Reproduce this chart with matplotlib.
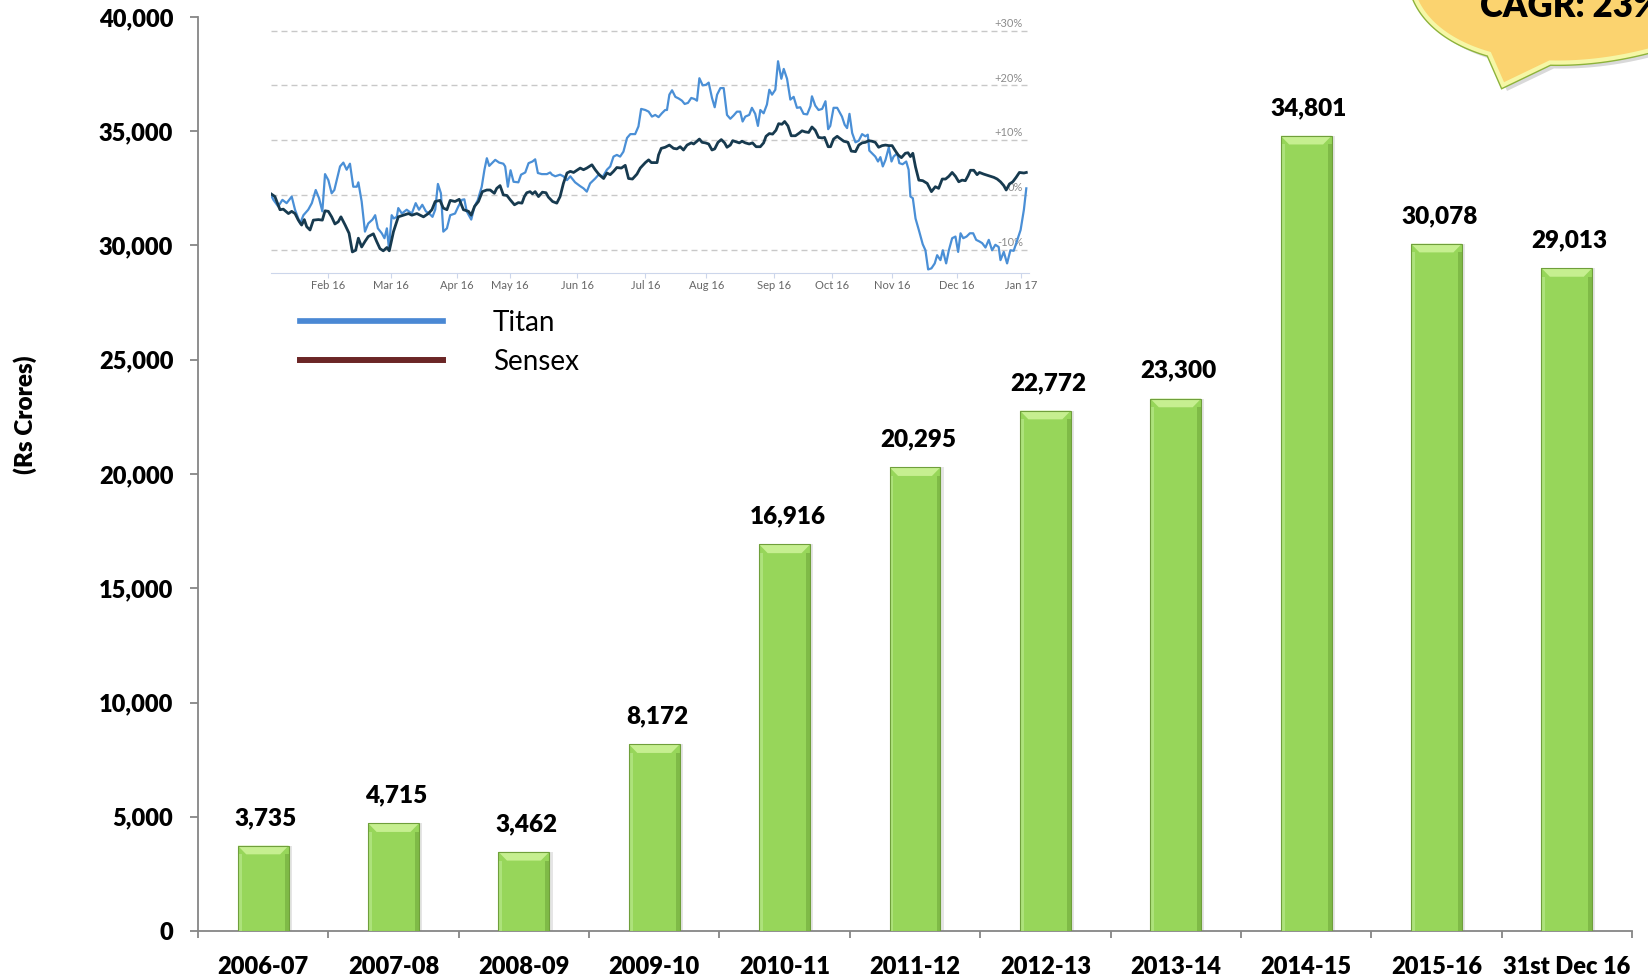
import numpy as np
import matplotlib
matplotlib.use("Agg")
import matplotlib.pyplot as plt
import matplotlib.transforms as mtransforms
import matplotlib.patheffects as pe
from matplotlib.patches import Polygon
from matplotlib.lines import Line2D

plt.rcParams['font.family'] = ['Lato', 'DejaVu Sans']

# =========================================================
# Data
# =========================================================

years = ["2006-07", "2007-08", "2008-09", "2009-10", "2010-11", "2011-12",
         "2012-13", "2013-14", "2014-15", "2015-16", "31st Dec 16"]
market_cap = [3735, 4715, 3462, 8172, 16916, 20295, 22772, 23300, 34801, 30078, 29013]

# one-year price performance (trading day index, % change)
titan_day = [
    0.0, 0.8, 2.4, 3.8, 5.2, 6.9, 8.0, 9.7, 10.8, 12.4, 13.6, 14.9, 16.0, 17.1, 18.0, 19.1,
    20.2, 21.1, 23.0, 24.1, 25.2, 26.3, 27.4, 28.6, 29.1, 30.2, 31.3, 32.4, 33.8, 34.7, 35.6,
    36.9, 37.8, 38.6, 39.3, 40.2, 40.9, 41.9, 42.4, 43.6, 45.2, 46.9, 48.2, 49.3, 50.4, 51.6,
    52.7, 53.8, 54.7, 55.6, 56.6, 57.4, 58.6, 59.7, 61.3, 62.4, 63.6, 64.4, 65.2, 66.7, 67.8,
    68.9, 70.2, 71.1, 71.9, 72.7, 73.8, 74.7, 76.0, 77.4, 78.0, 78.9, 79.8, 80.8, 82.4, 83.3,
    84.7, 85.8, 87.1, 88.0, 88.9, 90.2, 91.9, 93.0, 93.6, 94.7, 96.3, 97.4, 98.6, 99.7, 101.3,
    103.0, 104.1, 105.2, 106.3, 108.0, 109.3, 110.4, 111.9, 113.0, 114.1, 115.2, 116.3, 117.4,
    118.6, 119.7, 121.3, 122.4, 123.3, 124.7, 125.8, 126.9, 128.0, 129.1, 130.2, 131.3, 131.9,
    132.7, 133.6, 134.7, 135.8, 136.9, 137.8, 138.9, 140.0, 141.1, 141.9, 142.7, 143.8, 144.9,
    145.8, 146.9, 147.8, 148.6, 149.7, 150.8, 151.9, 153.0, 154.1, 155.2, 156.3, 157.1, 158.0,
    159.3, 160.2, 161.3, 162.2, 163.0, 164.1, 165.2, 166.0, 166.9, 168.0, 168.9, 170.0, 170.8,
    171.9, 173.0, 174.1, 175.2, 176.3, 177.4, 178.6, 179.7, 180.2, 181.3, 182.4, 183.6, 184.7,
    185.6, 186.3, 187.4, 188.6, 190.2, 191.1, 191.9, 192.7, 193.6, 194.7, 195.8, 196.9, 198.0,
    198.8, 199.3, 200.2, 201.3, 202.2, 203.0, 203.8, 204.7, 205.8, 206.7, 207.4, 208.6, 209.3,
    210.4, 211.6, 212.4, 213.0, 213.8, 214.7, 215.8, 217.1, 218.0, 218.9, 220.0, 221.1, 221.9,
    223.0, 223.8, 224.9, 225.8, 226.9, 228.0, 228.9, 229.7, 230.6, 231.7, 232.8, 233.9, 234.9,
    236.0, 236.9, 238.0, 239.1, 240.2, 241.3, 242.4, 243.0, 244.1, 245.2, 246.3, 247.4, 248.6,
    249.7, 250.8, 251.6]
titan_pct = [
    0.0, -0.9, -2.1, -0.9, -1.5, -0.3, -2.7, -5.2, -3.7, -2.7, -1.5, 0.9, -0.6, -3.0, 3.8, 2.7,
    0.3, 0.9, 5.2, 5.9, 4.6, 5.7, 1.5, 1.5, 2.3, -1.2, -6.7, -5.2, -4.5, -3.7, -6.1,
    -7.0, -7.9, -6.1, -9.8, -3.7, -4.3, -4.0, -2.4, -3.4, -2.7, -3.4, -1.5, -2.7, -1.8, -3.0,
    -3.4, -4.0, -2.7, 2.0, 0.3, -6.7, -6.1, -3.7, -3.4, -2.1, -0.9, -0.8, -3.0, -4.5, -2.1,
    -0.9, 1.5, 4.6, 6.7, 5.3, 5.9, 6.4, 5.9, 5.7, 5.2, 1.5, 4.5, 2.4, 2.3, 3.7,
    4.1, 5.8, 6.1, 6.5, 4.0, 3.8, 3.8, 4.1, 3.7, 3.4, 3.7, 3.4, 2.7, 3.4, 2.3,
    1.6, 1.2, 0.6, 2.1, 3.0, 3.8, 3.2, 4.6, 5.2, 7.0, 7.3, 7.0, 7.9,
    10.4, 11.1, 11.1, 12.5, 15.7, 15.5, 15.2, 14.3, 14.6, 14.2, 14.9, 15.5, 15.5,
    18.3, 19.1, 17.9, 17.6, 17.2, 16.6, 16.8, 17.7, 17.5, 17.2, 21.3, 20.0, 20.1,
    20.5, 17.7, 16.0, 18.3, 19.5, 19.5, 14.6, 13.9, 14.5, 15.2, 15.2, 13.4, 14.3,
    14.6, 15.9, 14.8, 12.6, 15.5, 14.9, 16.5, 19.2, 18.3, 19.2, 24.4, 21.2, 23.0,
    21.2, 17.4, 17.9, 15.9, 16.0, 14.8, 14.7, 16.2, 18.0, 16.3, 15.5, 15.7, 17.1,
    12.0, 12.6, 15.9, 15.9, 14.3, 12.8, 12.2, 14.8, 11.3, 9.6, 9.9, 11.1, 10.7,
    11.0, 8.1, 7.6, 7.0, 6.1, 6.9, 5.2, 6.4, 8.7, 6.1, 7.0, 7.6, 5.8,
    5.6, 6.1, 4.6, -0.3, -0.6, -4.3, -6.4, -9.0, -10.1, -13.6, -13.4, -12.5, -11.0,
    -11.9, -10.1, -12.5, -10.1, -7.9, -7.6, -10.4, -7.0, -7.9, -7.6, -7.0, -7.0, -8.2,
    -8.5, -8.8, -9.6, -8.2, -10.1, -9.1, -9.5, -11.9, -10.4, -12.5, -10.1, -10.2, -8.2,
    -6.4, -2.7, 1.2]

sensex_day = [
    0.0, 1.3, 3.0, 4.1, 5.8, 6.9, 8.0, 9.1, 10.2, 11.1, 11.9, 13.0, 14.1, 15.8, 17.1, 18.0,
    19.1, 20.2, 21.3, 22.4, 23.3, 24.7, 26.0, 27.1, 28.2, 29.1, 30.2, 31.3, 32.4, 34.1, 35.2,
    36.3, 37.4, 38.6, 39.4, 40.8, 42.4, 44.1, 45.8, 46.9, 48.6, 49.7, 50.8, 52.4, 53.6, 54.7,
    56.3, 57.4, 58.6, 59.7, 61.3, 62.7, 64.1, 65.8, 66.7, 67.8, 69.1, 70.4, 71.9, 73.0, 74.4,
    75.2, 76.3, 77.4, 78.6, 79.7, 81.1, 82.4, 83.6, 84.4, 85.2, 86.3, 87.1, 88.0, 89.1, 90.4,
    91.6, 92.4, 93.8, 95.2, 96.3, 97.4, 98.6, 99.7, 100.8, 101.9, 103.0, 104.1, 105.2, 106.9,
    108.0, 109.3, 110.8, 111.9, 113.0, 114.1, 115.2, 116.7, 118.0, 119.1, 120.4, 121.9, 123.0,
    124.7, 125.8, 126.7, 127.4, 128.6, 129.1, 130.0, 131.3, 132.7, 134.1, 135.2, 136.3, 137.4,
    138.6, 140.0, 140.8, 141.9, 142.7, 143.6, 144.7, 145.8, 146.9, 147.8, 148.9, 150.0, 151.1,
    151.9, 153.0, 153.8, 154.9, 156.0, 156.9, 158.0, 159.3, 160.4, 161.6, 163.0, 164.1, 164.9,
    166.0, 167.1, 168.2, 169.1, 170.2, 171.1, 172.2, 173.3, 174.7, 176.0, 176.9, 178.0, 179.1,
    180.2, 181.3, 182.4, 183.6, 184.4, 185.6, 186.4, 187.4, 188.6, 189.3, 190.8, 192.2, 193.3,
    194.7, 195.8, 196.9, 198.0, 199.1, 200.2, 201.3, 202.4, 203.6, 204.7, 205.8, 206.9, 207.8,
    208.9, 210.0, 211.3, 212.2, 213.0, 213.8, 214.7, 215.8, 217.1, 218.6, 220.0, 221.3, 222.4,
    223.6, 224.7, 225.8, 226.9, 228.0, 229.1, 230.2, 231.3, 232.2, 233.0, 234.1, 235.2, 236.0,
    237.4, 239.1, 240.8, 241.9, 243.0, 244.1, 244.9, 246.0, 247.1, 248.2, 249.3, 250.8, 251.6]
sensex_pct = [
    0.2, -0.3, -2.7, -2.6, -3.4, -3.0, -3.4, -4.6, -5.5, -4.5, -5.8, -6.4, -4.6, -4.5, -4.6, -2.9,
    -3.0, -4.0, -5.3, -4.9, -4.0, -5.5, -7.0, -10.4, -10.1, -7.9, -9.5, -8.5, -7.6, -7.1, -8.5,
    -9.8, -10.2, -9.6, -10.2, -6.7, -4.0, -3.7, -3.4, -3.7, -3.4, -3.7, -4.0, -3.4, -2.7, -1.2,
    -1.0, -2.4, -2.7, -1.0, -1.2, -0.8, -2.7, -3.0, -3.7, -2.1, -1.2, 0.6, 0.9, 0.9, 0.3,
    1.2, 1.7, 0.0, -0.1, -0.9, -1.8, -1.4, -1.5, -0.3, 0.4, 0.6, 0.2, 0.6, -0.3, 0.5,
    0.4, -0.4, -1.2, -1.5, -0.3, 2.1, 4.0, 4.3, 4.1, 4.5, 4.9, 4.6, 4.9, 5.5,
    4.6, 3.7, 3.0, 4.0, 3.7, 4.3, 5.0, 4.9, 5.4, 3.0, 2.9, 3.8, 4.9,
    5.9, 6.4, 5.9, 5.9, 5.9, 7.3, 8.5, 8.7, 9.1, 8.5, 8.4, 8.8, 8.2,
    9.1, 9.5, 9.3, 9.8, 10.2, 9.6, 9.5, 9.3, 8.2, 8.4, 9.6, 10.1, 9.5,
    8.7, 9.1, 9.9, 9.7, 9.5, 9.8, 9.5, 9.3, 9.5, 8.8, 8.8, 9.5, 10.7,
    11.2, 11.1, 11.8, 13.0, 12.9, 13.4, 12.6, 10.8, 10.8, 11.3, 11.7, 11.5, 11.4,
    12.4, 11.8, 10.5, 10.4, 10.5, 8.8, 8.8, 10.2, 10.7, 10.4, 9.8, 9.6, 8.0,
    7.9, 9.1, 9.5, 9.6, 9.9, 9.8, 9.6, 8.7, 9.0, 9.1, 9.0, 9.0, 8.2,
    7.3, 6.8, 7.6, 7.7, 7.0, 7.6, 5.1, 2.7, 2.6, 2.1, 0.6, 1.5, 1.2,
    2.9, 2.9, 3.4, 4.1, 3.4, 2.4, 2.7, 2.6, 3.5, 4.5, 4.5, 3.7, 4.1,
    3.8, 3.5, 3.2, 2.9, 2.4, 1.7, 0.9, 2.0, 2.4, 3.2, 4.1, 4.0, 4.1]

month_ticks = [19, 40, 62, 79.5, 102, 124.7, 145, 167.5, 187, 207, 228.5, 250]
month_labels = ["Feb 16", "Mar 16", "Apr 16", "May 16", "Jun 16", "Jul 16",
                "Aug 16", "Sep 16", "Oct 16", "Nov 16", "Dec 16", "Jan 17"]
grid_levels = [-10, 0, 10, 20, 30]
grid_labels = ["-10%", "0%", "+10%", "+20%", "+30%"]

# =========================================================
# Figure
# =========================================================

W, H = 1648, 980
fig = plt.figure(figsize=(W / 100, H / 100), dpi=100)
ax = fig.add_axes([198 / W, 49 / H, 1434 / W, 914 / H])

x = np.arange(len(years))
vals = np.array(market_cap)
bw = 0.39
bevel_h = 380
chamfer = 0.065
side = 0.03

# bars with a soft shadow, shaded sides and a bevelled top
ax.bar(x + 0.025, vals, width=bw, color="black", alpha=0.10, zorder=2)
ax.bar(x, vals, width=bw, color="#97d65a", linewidth=0, zorder=3)
ax.bar(x - bw / 2 + side / 2, vals - bevel_h, width=side, color="#ade27b", zorder=4)
ax.bar(x + bw / 2 - side / 2, vals - bevel_h, width=side, color="#7fba47", zorder=4)
for xi, v in zip(x, vals):
    ax.fill([xi - bw / 2, xi + bw / 2, xi + bw / 2 - chamfer, xi - bw / 2 + chamfer],
            [v, v, v - bevel_h, v - bevel_h], color="#c6ef90", lw=0, zorder=5)
ax.bar(x, vals, width=bw, fill=False, edgecolor="#6f9f3b", linewidth=0.8, zorder=6)

for xi, v in zip(x, vals):
    ax.annotate(f"{v:,}", (xi, v), xytext=(2, 15), textcoords="offset points",
                ha="center", va="baseline", fontsize=17.5, fontweight="heavy")

ax.set_xlim(-0.5, 10.5)
ax.set_ylim(0, 40000)
yt = np.arange(0, 40001, 5000)
ax.set_yticks(yt)
ax.set_yticklabels([f"{v:,}" for v in yt], fontsize=17, fontweight="heavy")
ax.set_xticks(x)
ax.set_xticklabels(years, fontsize=17, fontweight="heavy")
ax.set_xticks(np.arange(-0.5, 11, 1), minor=True)
ax.tick_params(axis="x", which="major", length=0, pad=18)
ax.tick_params(axis="x", which="minor", length=5, width=1.3, color="#868686")
ax.tick_params(axis="y", length=5.8, width=1.3, color="#868686", pad=12)
for s in ["top", "right"]:
    ax.spines[s].set_visible(False)
for s in ["left", "bottom"]:
    ax.spines[s].set_color("#868686")
    ax.spines[s].set_linewidth(1.3)
ax.set_facecolor("none")

fig.text(25 / W, 1 - 415 / H, "(Rs Crores)", rotation=90, ha="center", va="center",
         fontsize=17.5, fontweight="heavy")

# =========================================================
# Inset: Titan vs Sensex
# =========================================================

ins = fig.add_axes([271 / W, 1 - 273 / H, 758 / W, 253.4 / H])
ins.set_facecolor("none")
trans = mtransforms.blended_transform_factory(ins.transAxes, ins.transData)
for g, lbl in zip(grid_levels, grid_labels):
    ins.axhline(g, color="#c8c8c8", lw=1, ls=(0, (4.3, 2.9)), zorder=1)
    ins.text(0.992, g + 0.3, lbl, transform=trans, ha="right", va="bottom",
             fontsize=8, color="#8c8c8c", zorder=2)

ins.plot(titan_day, titan_pct, color="#4a8fd6", lw=1.6, zorder=3)
ins.plot(sensex_day, sensex_pct, color="#173a4f", lw=2, zorder=4)

ins.set_xlim(0, 252.5)
ins.set_ylim(-14.25, 32)
ins.set_xticks(month_ticks)
ins.set_xticklabels(month_labels)
ins.set_yticks([])
ins.tick_params(axis="x", length=3.6, width=0.8, color="#ccd6eb", labelcolor="#666666",
                labelsize=8, pad=1.5)
for s in ["top", "right", "left"]:
    ins.spines[s].set_visible(False)
ins.spines["bottom"].set_color("#ccd6eb")

handles = [Line2D([], [], color="#4a88d4", lw=4.1),
           Line2D([], [], color="#6b2626", lw=4.3)]
fig.legend(handles, ["Titan", "Sensex"], loc="upper left",
           bbox_to_anchor=(300 / W, 1 - 310 / H), frameon=False, fontsize=20,
           handlelength=5.15, handletextpad=1.8, labelspacing=0.45,
           borderpad=0, borderaxespad=0)

# =========================================================
# CAGR callout
# =========================================================

ov = fig.add_axes([0, 0, 1, 1], zorder=10)
ov.set_xlim(0, W)
ov.set_ylim(0, H)
ov.axis("off")

t = np.radians(np.linspace(-118, 223, 240))
cx, cy, a, b, ang = 1620, H + 66, 215, 120, np.radians(15)
ex = cx + a * np.cos(t) * np.cos(ang) - b * np.sin(t) * np.sin(ang)
ey = cy + a * np.cos(t) * np.sin(ang) + b * np.sin(t) * np.cos(ang)
pts = np.column_stack([np.append(ex, 1503), np.append(ey, H - 85)])

ov.add_patch(Polygon(pts + [4, -6], closed=True, fc="black", alpha=0.15, lw=0))
ov.add_patch(Polygon(pts, closed=True, fc="#fbd36f", ec="#f5f7a6", lw=3,
                     path_effects=[pe.Stroke(linewidth=5, foreground="#8db33a"), pe.Normal()]))
ov.text(1480, H - 17, "CAGR: 23%", fontsize=25, fontweight="heavy", ha="left", va="baseline")

fig.savefig("out.png", dpi=100)
